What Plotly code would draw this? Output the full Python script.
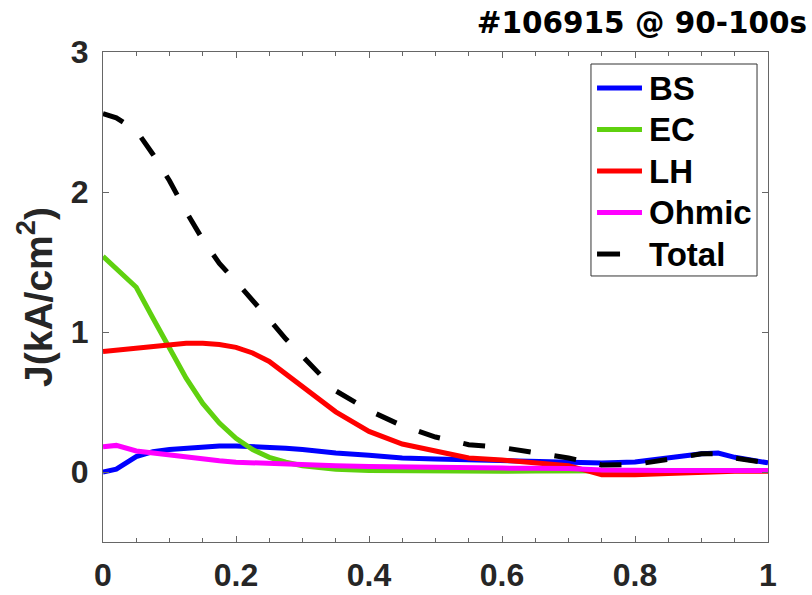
import plotly.graph_objects as go

# Normalized radius grid
rho = [0.0, 0.02, 0.05, 0.075, 0.1, 0.125, 0.15, 0.175, 0.2, 0.225, 0.25, 0.275,
       0.3, 0.35, 0.4, 0.45, 0.5, 0.55, 0.6, 0.65, 0.7, 0.75, 0.8, 0.85, 0.9,
       0.925, 0.95, 1.0]

# Current density components (kA/cm^2)
j_bs = [0.0, 0.02, 0.11, 0.145, 0.16, 0.17, 0.18, 0.185, 0.186, 0.183, 0.178, 0.17,
        0.16, 0.135, 0.12, 0.10, 0.093, 0.086, 0.08, 0.075, 0.066, 0.065, 0.072, 0.105,
        0.13, 0.135, 0.105, 0.065]
j_ec = [1.54, 1.45, 1.32, 1.10, 0.88, 0.67, 0.49, 0.35, 0.24, 0.16, 0.105, 0.07,
        0.045, 0.02, 0.01, 0.007, 0.006, 0.006, 0.006, 0.007, 0.008, 0.009, 0.01, 0.01,
        0.01, 0.01, 0.01, 0.01]
j_lh = [0.86, 0.87, 0.89, 0.90, 0.91, 0.92, 0.92, 0.91, 0.89, 0.85, 0.79, 0.70,
        0.61, 0.43, 0.29, 0.20, 0.15, 0.10, 0.085, 0.065, 0.045, -0.02, -0.02, -0.01,
        0.0, 0.003, 0.005, 0.005]
j_ohm = [0.18, 0.19, 0.15, 0.135, 0.12, 0.105, 0.09, 0.08, 0.07, 0.065, 0.06, 0.055,
         0.05, 0.045, 0.04, 0.035, 0.03, 0.03, 0.028, 0.026, 0.025, 0.015, 0.01, 0.01,
         0.01, 0.01, 0.01, 0.01]
j_total = [2.56, 2.53, 2.44, 2.27, 2.08, 1.86, 1.66, 1.49, 1.36, 1.23, 1.09, 0.95,
           0.83, 0.58, 0.44, 0.33, 0.25, 0.195, 0.175, 0.135, 0.10, 0.05, 0.054, 0.09,
           0.13, 0.13, 0.10, 0.065]

series = [
    ("BS", j_bs, "#0000ff", "solid"),
    ("EC", j_ec, "#5fd10f", "solid"),
    ("LH", j_lh, "#ff0000", "solid"),
    ("Ohmic", j_ohm, "#ff00ff", "solid"),
    ("Total", j_total, "#000000", "22px,24px"),
]

x_ticks = [0, 0.2, 0.4, 0.6, 0.8, 1]
x_labels = ["0", "0.2", "0.4", "0.6", "0.8", "1"]
y_ticks = [0, 1, 2, 3]
y_labels = ["0", "1", "2", "3"]

title_text = "#106915 @ 90-100s"
y_title = "J(kA/cm<sup>2</sup>)"

fig = go.Figure()
for name, vals, color, dash in series:
    fig.add_trace(go.Scatter(
        x=rho, y=vals, mode="lines", name=name, showlegend=False,
        line=dict(color=color, width=5, dash=dash),
    ))

# Boxed legend in the upper right of the axes (paper coordinates)
leg_left, leg_right = 0.7338, 0.9835
leg_top, leg_bottom = 0.9755, 0.5429
row_top, row_step = 0.9265, 0.0847
sample_x0, sample_x1, dash_x1 = 0.7429, 0.8105, 0.7775
text_x = 0.8181

fig.add_shape(type="rect", xref="paper", yref="paper",
              x0=leg_left, x1=leg_right, y0=leg_bottom, y1=leg_top,
              line=dict(color="#333333", width=1), fillcolor="white", layer="above")
for i, (name, vals, color, dash) in enumerate(series):
    yy = row_top - i * row_step
    x_end = dash_x1 if dash != "solid" else sample_x1
    fig.add_shape(type="line", xref="paper", yref="paper",
                  x0=sample_x0, x1=x_end, y0=yy, y1=yy,
                  line=dict(color=color, width=5), layer="above")
    fig.add_annotation(text=name, xref="paper", yref="paper",
                       x=text_x, y=yy, xanchor="left", yanchor="middle",
                       showarrow=False,
                       font=dict(family="Liberation Sans", size=33,
                                 color="#000000", weight="bold"))

tick_font = dict(family="Liberation Sans", size=32, color="#262626", weight="bold")
label_font = dict(family="Liberation Sans", size=39, color="#262626", weight="bold")
axis_gray = "#666666"

fig.update_layout(
    width=812, height=595,
    margin=dict(l=103, r=44, t=52, b=53, autoexpand=False),
    paper_bgcolor="white", plot_bgcolor="white",
    title=dict(
        text=title_text, xref="container", yref="container",
        x=0.994, xanchor="right", y=0.962, yanchor="middle",
        font=dict(family="DejaVu Sans", size=29.5, color="#000000", weight="bold"),
    ),
    xaxis=dict(
        range=[0, 1], tickvals=x_ticks, ticktext=x_labels,
        showline=True, linecolor=axis_gray, linewidth=1, mirror="allticks",
        ticks="inside", ticklen=6, tickwidth=1, tickcolor=axis_gray,
        minor=dict(tickvals=[i * 0.05 for i in range(21)], ticks="inside",
                   ticklen=4, tickwidth=1, tickcolor=axis_gray),
        showgrid=False, zeroline=False, automargin=False,
        tickfont=tick_font, ticklabelstandoff=5,
    ),
    yaxis=dict(
        range=[-0.5, 3], tickvals=y_ticks, ticktext=y_labels,
        showline=True, linecolor=axis_gray, linewidth=1, mirror="allticks",
        ticks="inside", ticklen=6, tickwidth=1, tickcolor=axis_gray,
        showgrid=False, zeroline=False, automargin=False,
        tickfont=tick_font, ticklabelstandoff=7,
        title=dict(text=y_title, font=label_font, standoff=6),
    ),
)

fig.write_html("out.html")
